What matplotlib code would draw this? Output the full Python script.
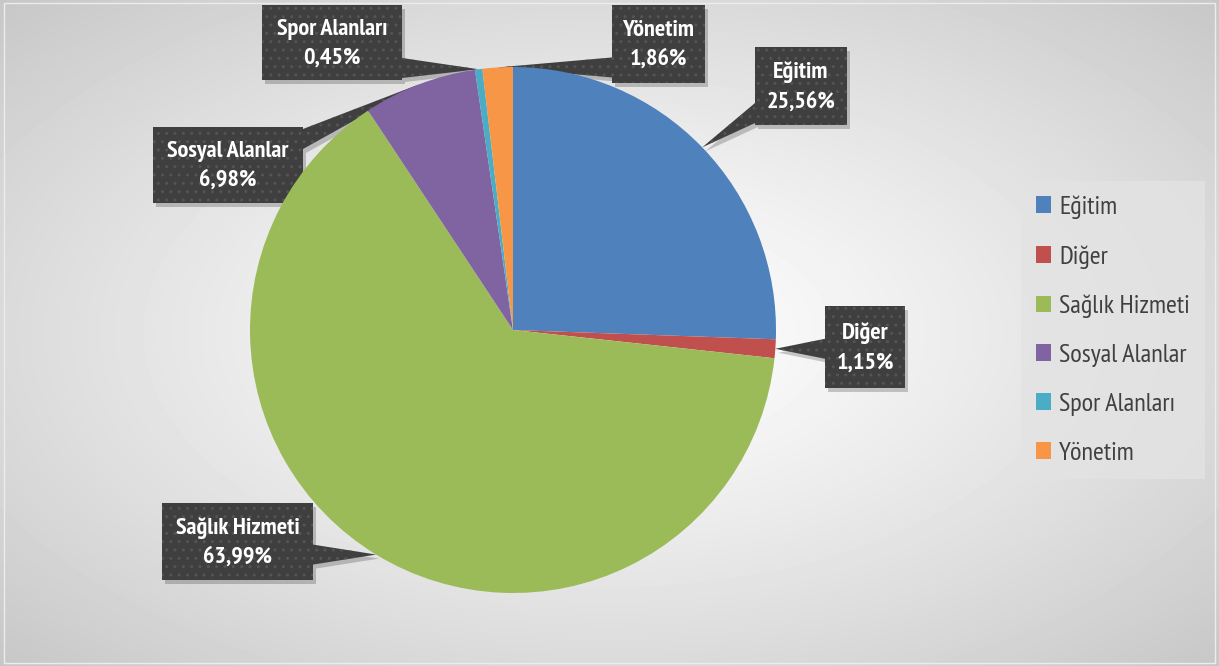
import numpy as np
import matplotlib
matplotlib.use('Agg')
import matplotlib.pyplot as plt
from matplotlib.patches import Polygon, Rectangle

# ------------------------------ Data ------------------------------------------
labels = ['Eğitim', 'Diğer', 'Sağlık Hizmeti', 'Sosyal Alanlar', 'Spor Alanları', 'Yönetim']
values = [25.56, 1.15, 63.99, 6.98, 0.45, 1.86]
value_text = ['25,56%', '1,15%', '63,99%', '6,98%', '0,45%', '1,86%']
colors = ['#4F81BD', '#C0504D', '#9BBB59', '#8064A2', '#4BACC6', '#F79646']

# ------------------------------ Layout (pixels, y from top) -------------------
W, H = 1219, 666
cx, cy, R = 513, 330, 263
# callout boxes: x0, y0, x1, y1, side the pointer leaves from
boxes = [
    (755, 47, 847, 125, 'left'),
    (825, 306, 905, 388, 'left'),
    (162, 503, 313, 580, 'right'),
    (153, 127, 303, 203, 'right'),
    (262, 5, 402, 80, 'right'),
    (612, 5, 705, 83, 'left'),
]
plt.rcParams['font.family'] = ['PT Sans Narrow', 'Roboto Condensed', 'DejaVu Sans']


def up(y):
    return H - y


fig = plt.figure(figsize=(W / 100, H / 100), dpi=100)
ax = fig.add_axes([0, 0, 1, 1])

# radial grey background
gx, gy = np.meshgrid(np.linspace(-1, 1, 400), np.linspace(-1, 1, 220))
d = np.sqrt(gx ** 2 + gy ** 2) / np.sqrt(2)
bg = 1.0 - 0.22 * d ** 1.2
ax.imshow(bg, cmap='gray', vmin=0, vmax=1, extent=(0, W, 0, H), zorder=0,
          aspect='auto', interpolation='bicubic')
ax.add_patch(Rectangle((4, 3), W - 8, H - 6, fill=False, edgecolor='#ececec',
                       linewidth=1, zorder=0.5))

# pie
wedges, _ = ax.pie(values, colors=colors, startangle=90, counterclock=False,
                   center=(cx, up(cy)), radius=R,
                   wedgeprops=dict(linewidth=0, zorder=3))

# callouts
total = sum(values)
cum = np.cumsum(values)
for i, (x0, y0, x1, y1, side) in enumerate(boxes):
    ang = np.deg2rad(360 * (cum[i] - values[i] / 2) / total)
    tx, ty = cx + R * np.sin(ang), cy - R * np.cos(ang)
    bc = min(max(ty, y0 + 12), y1 - 12)
    b0, b1 = bc - 10, bc + 10
    if side == 'right':
        pts = [(x0, y0), (x1, y0), (x1, b0), (tx, ty), (x1, b1), (x1, y1), (x0, y1)]
    else:
        pts = [(x0, y0), (x1, y0), (x1, y1), (x0, y1), (x0, b1), (tx, ty), (x0, b0)]
    shadow = [(x + 3, up(y + 4)) for x, y in pts]
    ax.add_patch(Polygon(shadow, closed=True, facecolor=(0, 0, 0, 0.2),
                         edgecolor='none', zorder=1.5))
    ax.add_patch(Polygon([(x, up(y)) for x, y in pts], closed=True,
                         facecolor='#3f3f3f', edgecolor='#545454', linewidth=0,
                         hatch='..', zorder=2))
    ax.text((x0 + x1) / 2, up((y0 + y1) / 2 + 1), f'{labels[i]}\n{value_text[i]}',
            ha='center', va='center', color='white', fontsize=17.5,
            fontweight='bold', linespacing=1.5, zorder=5)

ax.set_xlim(0, W)
ax.set_ylim(0, H)
ax.set_aspect('auto')
ax.axis('off')

leg = ax.legend(wedges, labels, loc='upper left',
                bbox_to_anchor=(1021 / W, 1 - 181 / H), frameon=True,
                fontsize=19, handlelength=0.6, handleheight=0.6,
                handletextpad=0.3, labelspacing=0.98, borderpad=0.55,
                borderaxespad=0)
leg.get_frame().set_facecolor('#e3e3e3')
leg.get_frame().set_edgecolor('none')
leg.get_frame().set_boxstyle('square', pad=0)
for t in leg.get_texts():
    t.set_color('#404040')
for h in leg.legend_handles:
    h.set_edgecolor('none')

fig.savefig('out.png', dpi=100)
